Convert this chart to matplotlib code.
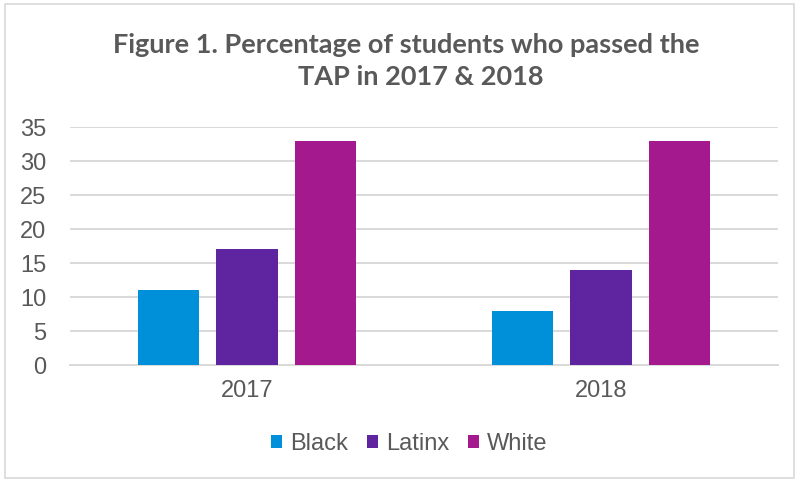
import matplotlib.pyplot as plt
import numpy as np
from matplotlib.patches import Rectangle

years = ["2017", "2018"]
groups = ["Black", "Latinx", "White"]
black = [11, 8]
latinx = [17, 14]
white = [33, 33]
colors = ["#0090D9", "#5F249F", "#A4198E"]
title_lines = ["Figure 1. Percentage of students who passed the", "TAP in 2017 & 2018"]

plt.rcParams['font.family'] = ['Liberation Sans', 'DejaVu Sans']

fig = plt.figure(figsize=(7.99, 4.82), dpi=100)
ax = fig.add_axes([0.0876, 0.2427, 0.886, 0.4938])

x = np.arange(len(years))
width = 0.173
step = 0.221
for i, (name, vals) in enumerate(zip(groups, [black, latinx, white])):
    ax.bar(x + (i - 1) * step, vals, width, color=colors[i], label=name, zorder=3)

ax.set_xlim(-0.5, 1.5)
ax.set_ylim(0, 35)
ax.set_yticks(range(0, 36, 5))
ax.set_xticks(x)
ax.set_xticklabels(years)
ax.grid(axis="y", color="#D9D9D9", linewidth=1.4, zorder=0)
for s in ["top", "right", "left"]:
    ax.spines[s].set_visible(False)
ax.spines["bottom"].set_color("#D9D9D9")
ax.spines["bottom"].set_linewidth(1.4)
ax.tick_params(axis="both", length=0, labelsize=17, colors="#595959")
ax.tick_params(axis="y", pad=17)
ax.tick_params(axis="x", pad=11)

# title: two lines, the first one is centred a bit left (trailing space in the original)
for txt, xc, yc in zip(title_lines, [0.508, 0.526], [0.9066, 0.840]):
    fig.text(xc, yc, txt, ha="center", va="center", fontsize=19.5, fontweight="bold",
             color="#595959", family=["Lato", "DejaVu Sans"])

leg = fig.legend(loc="center", bbox_to_anchor=(0.512, 0.079), ncol=3, frameon=False,
                 fontsize=17, handlelength=0.47, handleheight=0.47, handletextpad=0.34,
                 columnspacing=0.8, borderaxespad=0)
for t in leg.get_texts():
    t.set_color("#595959")

fig.patches.append(Rectangle((0.006, 0.008), 0.988, 0.984, transform=fig.transFigure,
                             fill=False, edgecolor="#D9D9D9", linewidth=1.2))

fig.savefig("out.png", dpi=100)
